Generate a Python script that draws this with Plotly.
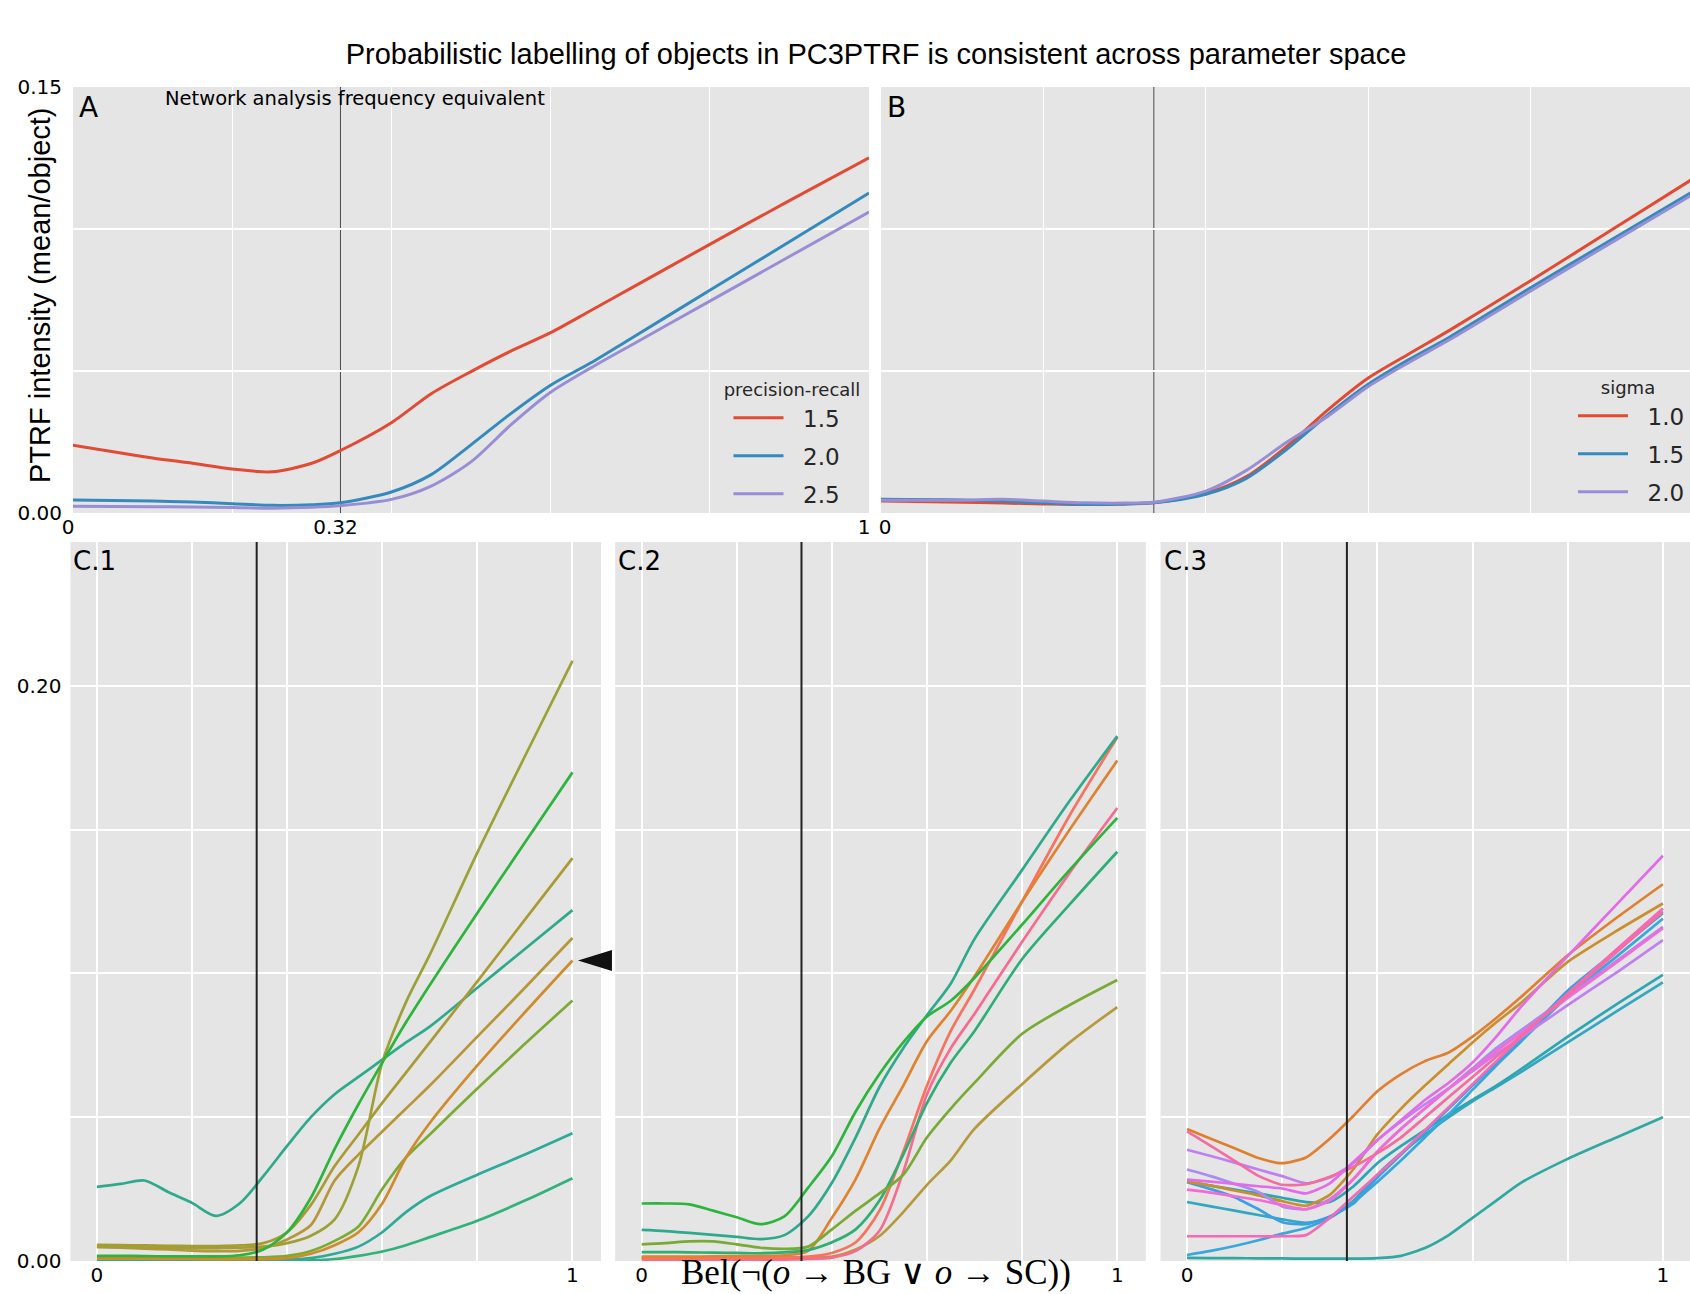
import plotly.graph_objects as go

W, H = 1690, 1294

TITLE = "Probabilistic labelling of objects in PC3PTRF is consistent across parameter space"
Y_LABEL = "PTRF intensity (mean/object)"
X_LABEL = "Bel(¬(<i>o</i> → BG ∨ <i>o</i> → SC))"
NOTE = "Network analysis frequency equivalent"
THRESHOLD = 0.336
THRESHOLD_LABEL = "0.32"

# ---------------- Panel A / B data ----------------
XA = [0, .1, .15, .2, .25, .3, .336, .4, .45, .5, .55, .6, .65, .7, .8, .9, 1.0]

A_TITLE = "precision-recall"
A_NAMES = ["1.5", "2.0", "2.5"]
A_15 = [.0239, .0194, .0175, .0155, .0145, .0175, .0220, .0318, .0420, .0498, .0570, .0635, .0712, .0790, .0946, .1100, .1251]
A_20 = [.0046, .0042, .0039, .0033, .0027, .0029, .0036, .0074, .0135, .0240, .0350, .0450, .0528, .0613, .0784, .0955, .1127]
A_25 = [.0024, .0022, .0021, .0019, .0017, .0020, .0026, .0048, .0095, .0180, .0310, .0425, .0510, .0589, .0746, .0903, .1060]

B_TITLE = "sigma"
B_NAMES = ["1.0", "1.5", "2.0"]
B_10 = [.0042, .0038, .0035, .0032, .0030, .0032, .0036, .0069, .0128, .0235, .0362, .0475, .0560, .0643, .0818, .0997, .1177]
B_15 = [.0048, .0046, .0042, .0036, .0030, .0032, .0036, .0066, .0122, .0225, .0345, .0453, .0540, .0619, .0793, .0963, .1132]
B_20 = [.0045, .0045, .0048, .0042, .0036, .0035, .0038, .0077, .0150, .0250, .0340, .0445, .0530, .0610, .0782, .0953, .1122]

AB_COLORS = ["#E24A33", "#348ABD", "#988ED5"]

# ---------------- Panel C data ----------------
XC = [0, .05, .1, .15, .2, .25, .3, .35, .4, .45, .5, .55, .6, .65, .7, .8, .9, 1.0]

# C.1
C1_A = [.0049, .0048, .0047, .0046, .0045, .0045, .0046, .0050, .0062, .0088, .0145, .0330, .0690, .0900, .1065, .1420, .1755, .2087]
C1_B = [.0018, .0018, .0017, .0016, .0016, .0016, .0020, .0040, .0100, .0220, .0390, .0545, .0690, .0830, .0960, .1210, .1455, .1699]
C1_C = [.0056, .0055, .0054, .0053, .0052, .0052, .0054, .0062, .0100, .0195, .0330, .0440, .0550, .0655, .0760, .0972, .1187, .1401]
C1_D = [.0258, .0268, .0280, .0240, .0202, .0157, .0200, .0295, .0400, .0500, .0580, .0640, .0700, .0760, .0815, .0950, .1085, .1220]
C1_E = [.0049, .0046, .0043, .0040, .0036, .0034, .0035, .0045, .0075, .0125, .0280, .0370, .0450, .0530, .0610, .0780, .0950, .1123]
C1_F = [.0008, .0008, .0008, .0007, .0007, .0006, .0006, .0007, .0010, .0025, .0055, .0100, .0200, .0360, .0480, .0680, .0865, .1045]
C1_G = [.0013, .0013, .0013, .0012, .0012, .0012, .0012, .0013, .0018, .0035, .0070, .0120, .0250, .0360, .0440, .0600, .0755, .0906]
C1_H = [.0003, .0003, .0003, .0003, .0003, .0003, .0003, .0003, .0005, .0010, .0025, .0050, .0100, .0170, .0225, .0300, .0370, .0444]
C1_I = [.0001, .0001, .0001, .0001, .0001, .0001, .0001, .0001, .0001, .0002, .0007, .0018, .0033, .0055, .0083, .0140, .0210, .0288]
C1_SERIES = [C1_D, C1_I, C1_H, C1_G, C1_F, C1_E, C1_C, C1_A, C1_B]
C1_COLORS = ["#2fa98c", "#30b27a", "#2faa99", "#7cab35", "#cf8b2c", "#b7963a", "#a99a33", "#9da035", "#2db43c"]

# C.2
C2_G = [.0200, .0200, .0197, .0175, .0152, .0128, .0155, .0255, .0365, .0520, .0650, .0760, .0850, .0905, .0985, .1170, .1360, .1541]
C2_T = [.0108, .0104, .0098, .0091, .0084, .0076, .0090, .0155, .0272, .0430, .0605, .0740, .0855, .0965, .1120, .1360, .1600, .1825]
C2_Y = [.0058, .0062, .0068, .0068, .0058, .0046, .0042, .0050, .0110, .0175, .0235, .0300, .0430, .0530, .0620, .0790, .0890, .0977]
C2_T2 = [.0031, .0031, .0030, .0029, .0028, .0027, .0030, .0038, .0065, .0110, .0210, .0370, .0550, .0690, .0800, .1050, .1240, .1423]
C2_OR = [.0015, .0015, .0015, .0016, .0017, .0018, .0020, .0035, .0150, .0285, .0460, .0610, .0765, .0870, .0990, .1250, .1500, .1740]
C2_R = [.0009, .0009, .0009, .0009, .0010, .0011, .0012, .0015, .0028, .0065, .0175, .0380, .0610, .0800, .0945, .1250, .1550, .1821]
C2_P = [.0003, .0003, .0003, .0003, .0004, .0004, .0005, .0007, .0012, .0035, .0105, .0310, .0580, .0740, .0860, .1110, .1350, .1575]
C2_O = [.0012, .0012, .0012, .0012, .0012, .0012, .0012, .0013, .0015, .0040, .0087, .0170, .0265, .0350, .0460, .0615, .0760, .0883]
C2_SERIES = [C2_O, C2_P, C2_R, C2_OR, C2_T2, C2_Y, C2_T, C2_G]
C2_COLORS = ["#b59a3b", "#f66b8e", "#f7735f", "#e0822f", "#2cae75", "#78ab35", "#2fa98c", "#2db43c"]

# C.3
C3_O = [.0459, .0425, .0392, .0358, .0340, .0360, .0425, .0505, .0590, .0650, .0695, .0725, .0780, .0845, .0915, .1063, .1190, .1310]
C3_PR = [.0451, .0400, .0348, .0296, .0265, .0267, .0293, .0328, .0375, .0430, .0500, .0570, .0640, .0710, .0780, .0925, .1070, .1215]
C3_L = [.0387, .0365, .0342, .0318, .0295, .0270, .0290, .0340, .0420, .0485, .0545, .0600, .0660, .0720, .0775, .0890, .1000, .1116]
C3_PU = [.0318, .0295, .0268, .0240, .0190, .0180, .0215, .0285, .0380, .0460, .0530, .0600, .0670, .0740, .0800, .0920, .1040, .1162]
C3_M1 = [.0283, .0276, .0268, .0260, .0252, .0235, .0270, .0345, .0420, .0490, .0560, .0620, .0690, .0780, .0880, .1060, .1235, .1409]
C3_P2 = [.0248, .0238, .0225, .0212, .0195, .0180, .0210, .0285, .0380, .0460, .0530, .0600, .0665, .0730, .0790, .0915, .1035, .1157]
C3_B1 = [.0274, .0250, .0222, .0180, .0135, .0128, .0155, .0200, .0290, .0370, .0450, .0530, .0610, .0690, .0770, .0940, .1075, .1209]
C3_B2 = [.0021, .0035, .0052, .0072, .0095, .0115, .0150, .0205, .0275, .0350, .0430, .0510, .0595, .0680, .0760, .0920, .1055, .1190]
C3_TE1 = [.0276, .0262, .0248, .0235, .0220, .0205, .0205, .0260, .0340, .0400, .0455, .0510, .0560, .0610, .0665, .0780, .0890, .0995]
C3_TE2 = [.0205, .0190, .0175, .0160, .0145, .0133, .0150, .0210, .0300, .0375, .0440, .0500, .0555, .0605, .0655, .0760, .0865, .0969]
C3_G = [.0276, .0262, .0245, .0228, .0208, .0192, .0230, .0320, .0440, .0530, .0610, .0685, .0760, .0830, .0895, .1040, .1145, .1243]
C3_P3 = [.0086, .0086, .0086, .0086, .0086, .0090, .0150, .0225, .0300, .0375, .0455, .0535, .0615, .0695, .0775, .0930, .1080, .1226]
C3_T3 = [.0011, .0010, .0010, .0009, .0009, .0008, .0008, .0008, .0010, .0018, .0045, .0090, .0150, .0210, .0270, .0355, .0428, .0500]
C3_SERIES = [C3_T3, C3_TE2, C3_TE1, C3_B2, C3_B1, C3_G, C3_O, C3_L, C3_PU, C3_P3, C3_P2, C3_PR, C3_M1]
C3_COLORS = ["#2ea8a0", "#31a7c0", "#2ca6b4", "#36a8de", "#3b9fe3", "#c98f2e", "#e07f2f",
             "#c17ff2", "#a98bf2", "#f56ab8", "#f56ad6", "#f36da0", "#e36ae9"]


# ---------------- layout geometry (pixels) ----------------
def px_x(p):
    return p / W


def px_y(p):
    return 1 - p / H


BG = "#E5E5E5"
TICKFONT = dict(family="DejaVu Sans", size=20, color="black")
C_RANGE_X1 = [-0.0557, 1.06]
C_RANGE_X3 = [-0.0557, 1.057]
C_RANGE_Y = [0, 0.25]
PAD = "\u00a0\u00a0"  # gap between legend line sample and its label

fig = go.Figure()

# Panel A
for name, ys, col in zip(A_NAMES, [A_15, A_20, A_25], AB_COLORS):
    fig.add_trace(go.Scatter(x=XA, y=ys, mode="lines", name=PAD + name, legend="legend",
                             legendgroup="A" + name,
                             line=dict(color=col, width=3, shape="spline", smoothing=0.8),
                             xaxis="x", yaxis="y"))
# Panel B
for name, ys, col in zip(B_NAMES, [B_10, B_15, B_20], AB_COLORS):
    fig.add_trace(go.Scatter(x=XA, y=ys, mode="lines", name=PAD + name, legend="legend2",
                             legendgroup="B" + name,
                             line=dict(color=col, width=3, shape="spline", smoothing=0.8),
                             xaxis="x2", yaxis="y2"))

# Panels C
for series, colors, xa, ya, sm in [(C1_SERIES, C1_COLORS, "x3", "y3", 0.8),
                                  (C2_SERIES, C2_COLORS, "x4", "y4", 0.8),
                                  (C3_SERIES, C3_COLORS, "x5", "y5", 0.6)]:
    for ys, col in zip(series, colors):
        fig.add_trace(go.Scatter(x=XC, y=ys, mode="lines", showlegend=False,
                                 line=dict(color=col, width=2.7, shape="spline", smoothing=sm),
                                 xaxis=xa, yaxis=ya))


def xaxis(domain, rng, tickvals, ticktext, anchor, minor=None, gridwidth=1.5, showgrid=True, shift=0):
    d = dict(domain=domain, range=rng, anchor=anchor, tickmode="array", tickvals=tickvals,
             ticktext=ticktext, showgrid=showgrid, gridcolor="white", gridwidth=gridwidth,
             ticks="", showline=False, zeroline=False, tickfont=TICKFONT, fixedrange=True,
             ticklabelshift=shift, automargin=False)
    if minor:
        d["minor"] = minor
    return d


def yaxis(domain, rng, tickvals, ticktext, anchor, gridwidth=1.5, standoff=10):
    return dict(domain=domain, range=rng, anchor=anchor, tickmode="array", tickvals=tickvals,
                ticktext=ticktext, showgrid=True, gridcolor="white", gridwidth=gridwidth,
                ticks="", showline=False, zeroline=False, tickfont=TICKFONT, fixedrange=True,
                ticklabelstandoff=standoff, automargin=False)


AB_MINOR = dict(tickmode="array", tickvals=[.2, .4, .6, .8], showgrid=True,
                gridcolor="white", gridwidth=1, ticks="")
AB_YDOM = [px_y(513), px_y(87)]
C_YDOM = [px_y(1261), px_y(542)]
LEG_FONT = dict(family="DejaVu Sans", size=23, color="#262626")
LEG_TFONT = dict(family="DejaVu Sans", size=18, color="#262626")

fig.update_layout(
    width=W, height=H, autosize=False,
    margin=dict(l=0, r=0, t=0, b=0, pad=0, autoexpand=False),
    paper_bgcolor="white", plot_bgcolor=BG,
    font=dict(family="DejaVu Sans", color="black"),
    title=dict(text=TITLE, x=px_x(876), y=px_y(54), xanchor="center", yanchor="middle",
               xref="paper", yref="paper", automargin=False,
               font=dict(family="Liberation Sans", size=29, color="black")),
    xaxis=xaxis([px_x(73), px_x(869)], [0, 1], [0, THRESHOLD, 1], ["0", THRESHOLD_LABEL, "1"],
                "y", minor=AB_MINOR, showgrid=False, shift=-5),
    yaxis=yaxis(AB_YDOM, [0, 0.15], [0, .05, .10, .15], ["0.00", "", "", "0.15"], "x", gridwidth=2),
    xaxis2=xaxis([px_x(881), 1.0], [0, 0.9963], [0, 1], ["0", "1"], "y2", minor=AB_MINOR,
                 showgrid=False, shift=4),
    yaxis2=yaxis(AB_YDOM, [0, 0.15], [0, .05, .10, .15], ["", "", "", ""], "x2", gridwidth=2),
    xaxis3=xaxis([px_x(70.4), px_x(601)], C_RANGE_X1, [0, .2, .4, .6, .8, 1], ["0", "", "", "", "", "1"], "y3"),
    yaxis3=yaxis(C_YDOM, C_RANGE_Y, [0, .05, .1, .15, .2], ["0.00", "", "", "", "0.20"], "x3", standoff=8),
    xaxis4=xaxis([px_x(615.2), px_x(1145.8)], C_RANGE_X1, [0, .2, .4, .6, .8, 1], ["0", "", "", "", "", "1"], "y4"),
    yaxis4=yaxis(C_YDOM, C_RANGE_Y, [0, .05, .1, .15, .2], ["", "", "", "", ""], "x4"),
    xaxis5=xaxis([px_x(1160.5), 1.0], C_RANGE_X3, [0, .2, .4, .6, .8, 1], ["0", "", "", "", "", "1"], "y5"),
    yaxis5=yaxis(C_YDOM, C_RANGE_Y, [0, .05, .1, .15, .2], ["", "", "", "", ""], "x5"),
    legend=dict(x=px_x(792), xanchor="center", y=px_y(373), yanchor="top",
                bgcolor="rgba(0,0,0,0)", borderwidth=0, tracegroupgap=5, indentation=7,
                traceorder="grouped", itemwidth=50, font=LEG_FONT,
                title=dict(text=A_TITLE, side="top center", font=LEG_TFONT)),
    legend2=dict(x=1.0, xanchor="right", y=px_y(371), yanchor="top",
                 bgcolor="rgba(0,0,0,0)", borderwidth=0, tracegroupgap=5, indentation=7,
                 traceorder="grouped", itemwidth=50, font=LEG_FONT,
                 title=dict(text=B_TITLE, side="top center", font=LEG_TFONT)),
    showlegend=True,
)

# threshold lines
shapes = []
for xr, yr in [("x", "y"), ("x2", "y2")]:
    shapes.append(dict(type="line", xref=xr, yref=yr + " domain", x0=THRESHOLD, x1=THRESHOLD,
                       y0=0, y1=1, line=dict(color="#4a4a4a", width=1), layer="below"))
for xr, yr in [("x3", "y3"), ("x4", "y4"), ("x5", "y5")]:
    shapes.append(dict(type="line", xref=xr, yref=yr + " domain", x0=THRESHOLD, x1=THRESHOLD,
                       y0=0, y1=1, line=dict(color="#222222", width=2), layer="above"))

# arrowhead marking the end point of the highlighted C.1 series
ax_frac = (XC[-1] - C_RANGE_X1[0]) / (C_RANGE_X1[1] - C_RANGE_X1[0])
ay_frac = (C1_F[-1] - C_RANGE_Y[0]) / (C_RANGE_Y[1] - C_RANGE_Y[0])
shapes.append(dict(type="path", xref="x3 domain", yref="y3 domain",
                   xsizemode="pixel", ysizemode="pixel", xanchor=ax_frac, yanchor=ay_frac,
                   path="M 5.5,0 L 39.5,10.5 L 39.5,-10.5 Z",
                   fillcolor="#111111", line=dict(width=0), layer="above"))
fig.update_layout(shapes=shapes)

ann = []
ann.append(dict(text=Y_LABEL, x=px_x(40), y=px_y(295), xref="paper", yref="paper",
                textangle=-90, showarrow=False, xanchor="center", yanchor="middle",
                font=dict(family="Liberation Sans", size=29, color="black")))
ann.append(dict(text=X_LABEL, x=px_x(876), y=0, xref="paper", yref="paper", yshift=0,
                showarrow=False, xanchor="center", yanchor="bottom",
                font=dict(family="Liberation Serif", size=35, color="black")))
ann.append(dict(text=NOTE, x=THRESHOLD, xref="x", y=0.972, yref="y domain", xshift=15,
                showarrow=False, xanchor="center", yanchor="middle",
                font=dict(family="DejaVu Sans", size=19.5, color="black")))
for lab, xr, yr, size, xs in [("A", "x", "y", 28, 4), ("B", "x2", "y2", 28, 4),
                              ("C.1", "x3", "y3", 26, 1), ("C.2", "x4", "y4", 26, 1),
                              ("C.3", "x5", "y5", 26, 1)]:
    ann.append(dict(text=lab, x=0, y=1, xref=xr + " domain", yref=yr + " domain",
                    xanchor="left", yanchor="top", xshift=xs, yshift=-2, showarrow=False,
                    font=dict(family="DejaVu Sans", size=size, color="black")))
fig.update_layout(annotations=ann)

fig.write_html("out.html", config={"displayModeBar": False},
               post_script="document.body.style.margin='0';document.body.style.overflow='hidden';")
